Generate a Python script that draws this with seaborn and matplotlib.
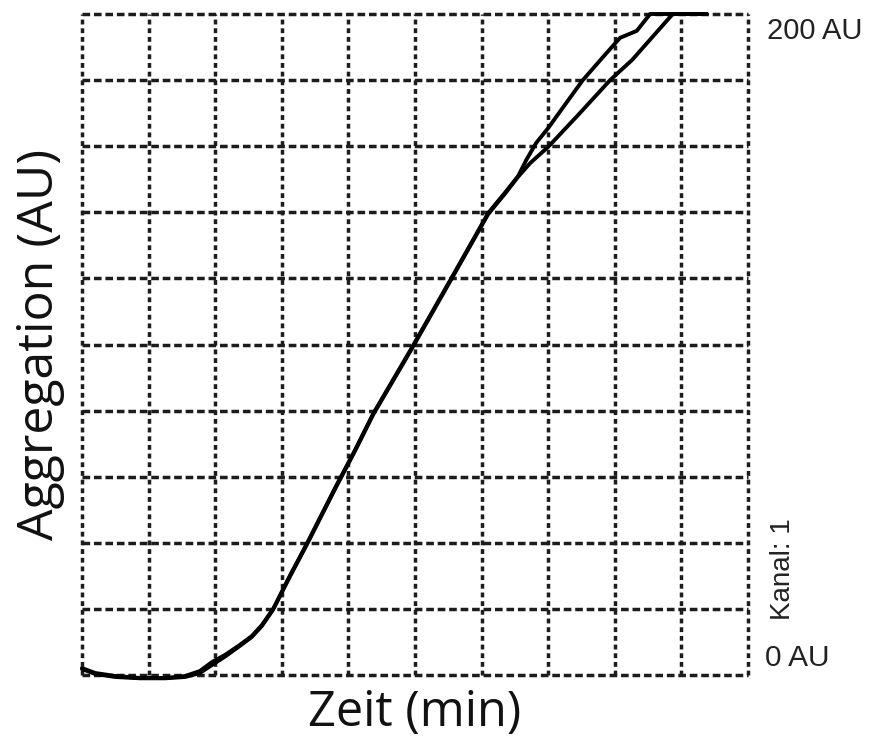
import pandas as pd
import matplotlib.pyplot as plt
import seaborn as sns

# Zeitachse in Rasterkaestchen (10 Kaestchen), Aggregation in AU (0-200)
zeit_gemeinsam = [0.00, 0.20, 0.50, 0.87, 1.25, 1.55, 1.77, 1.95, 2.15, 2.37,
                  2.55, 2.70, 2.87, 3.12, 3.38, 3.80, 4.10, 4.37, 4.96, 5.53,
                  6.10, 6.35, 6.55]
agg_gemeinsam_1 = [2.1, 0.6, -0.3, -0.9, -0.9, -0.3, 1.2, 3.9, 6.1, 9.1,
                   11.8, 15.1, 20.0, 30.0, 39.9, 56.6, 68.1, 79.0, 99.3, 119.5,
                   139.8, 145.9, 151.0]
agg_gemeinsam_2 = [1.8, 0.3, -0.6, -1.0, -1.0, -0.6, 0.6, 3.0, 5.6, 8.8,
                   11.5, 14.8, 19.8, 29.7, 39.6, 56.3, 67.8, 78.7, 99.0, 119.2,
                   139.5, 145.6, 150.8]

zeit_kurve_1 = [6.67, 6.82, 7.00, 7.25, 7.52, 7.85, 8.08, 8.33, 8.53, 9.38]
agg_kurve_1 = [155.8, 161.0, 165.5, 172.5, 180.0, 187.6, 192.8, 194.9, 200.0, 200.0]

zeit_kurve_2 = [6.73, 7.00, 7.48, 7.93, 8.26, 8.87, 9.38]
agg_kurve_2 = [154.9, 159.8, 170.1, 180.0, 186.1, 200.0, 200.0]

raster_x = list(range(0, 11))
raster_y = list(range(0, 201, 20))

df = pd.concat([
    pd.DataFrame({'Zeit': zeit_gemeinsam + zeit_kurve_1,
                  'Aggregation': agg_gemeinsam_1 + agg_kurve_1,
                  'Kurve': 'A'}),
    pd.DataFrame({'Zeit': zeit_gemeinsam + zeit_kurve_2,
                  'Aggregation': agg_gemeinsam_2 + agg_kurve_2,
                  'Kurve': 'B'}),
], ignore_index=True)

sns.set_style('white')
plt.rcParams['font.family'] = ['Open Sans', 'DejaVu Sans']

fig = plt.figure(figsize=(8.73, 7.37), dpi=100)
ax = fig.add_axes([82 / 873, 1 - 675 / 737, 666 / 873, 661 / 737])

# gestricheltes Raster
for xv in raster_x:
    ax.axvline(xv, color='#1c1c1c', lw=2.5, linestyle=(0, (1.4, 1.1)),
               clip_on=False, zorder=1)
for yv in raster_y:
    ax.axhline(yv, color='#1c1c1c', lw=2.5, linestyle=(0, (2.2, 1.1)),
               clip_on=False, zorder=1)

sns.lineplot(data=df, x='Zeit', y='Aggregation', hue='Kurve',
             palette=['black', 'black'], estimator=None, sort=False,
             legend=False, lw=2.8, ax=ax, zorder=3)
for ln in ax.get_lines():
    ln.set_clip_on(False)
    ln.set_solid_joinstyle('round')

ax.set_xlim(0, 10)
ax.set_ylim(0, 200)
ax.set_xticks([])
ax.set_yticks([])
for sp in ax.spines.values():
    sp.set_visible(False)

ax.set_xlabel('Zeit (min)', fontsize=35, labelpad=10, color='#111111')
ax.set_ylabel('Aggregation (AU)', fontsize=36, labelpad=12, color='#111111')

ax.text(10.28, 195, '200 AU', fontsize=21, family='Liberation Sans',
        ha='left', va='center', color='#222222')
ax.text(10.25, 5.1, '0 AU', fontsize=21.5, family='Liberation Sans',
        ha='left', va='center', color='#222222')
ax.text(10.53, 32, 'Kanal: 1', fontsize=20, family='Liberation Sans',
        rotation=90, ha='center', va='center', color='#222222')

fig.savefig('out.png', dpi=100)
